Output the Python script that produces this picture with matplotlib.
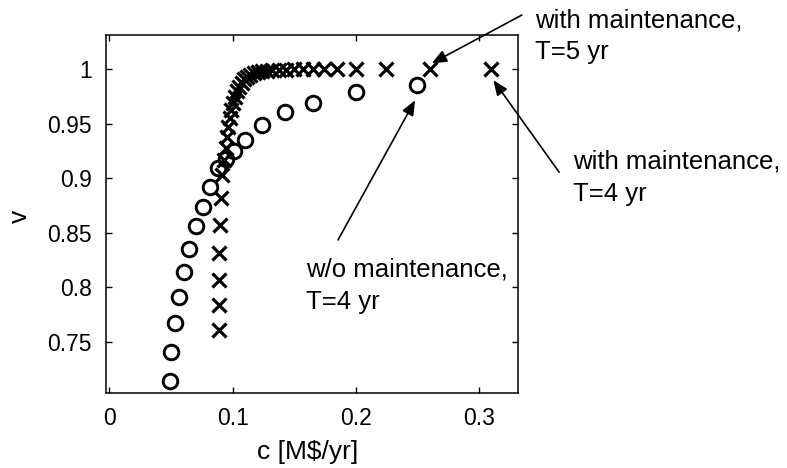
#!/usr/bin/env python
#
# Availability v vs. annual cost c, with and without maintenance.
# Saves the figure as out.png
#

import matplotlib as mpl
import matplotlib.pyplot as plt

mpl.rcParams['font.family'] = 'Liberation Sans'

# w/o maintenance (circles)
cost_wo = [0.0491, 0.0496, 0.0531, 0.0566, 0.0607, 0.0647, 0.0702, 0.0761, 0.0815, 0.0882,
           0.0945, 0.1010, 0.1099, 0.1234, 0.1423, 0.1648, 0.1999, 0.2491]
avail_wo = [0.7143, 0.7409, 0.7670, 0.7908, 0.8143, 0.8349, 0.8562, 0.8739, 0.8917, 0.9092,
            0.9177, 0.9255, 0.9356, 0.9489, 0.9604, 0.9694, 0.9789, 0.9856]

# with maintenance (crosses)
cost_w = [0.0888, 0.0888, 0.0892, 0.0892, 0.0896, 0.0904, 0.0916, 0.0929, 0.0941, 0.0953,
          0.0965, 0.0977, 0.0989, 0.1002, 0.1018, 0.1034, 0.1050, 0.1071, 0.1091, 0.1115,
          0.1140, 0.1172, 0.1204, 0.1237, 0.1277, 0.1318, 0.1375, 0.1431, 0.1496, 0.1569,
          0.1650, 0.1740, 0.1845, 0.1999, 0.2243, 0.2600, 0.3092]
avail_w = [0.7608, 0.7833, 0.8067, 0.8315, 0.8572, 0.8820, 0.9031, 0.9168, 0.9278, 0.9379,
           0.9471, 0.9553, 0.9627, 0.9691, 0.9746, 0.9801, 0.9842, 0.9879, 0.9911, 0.9934,
           0.9952, 0.9966, 0.9975, 0.9984, 0.9989, 0.9994, 0.9996, 0.9998, 0.9999, 1.0,
           1.0, 1.0, 1.0, 1.0, 1.0, 1.0, 1.0]

x_ticks = [0, 0.1, 0.2, 0.3]
y_ticks = [0.75, 0.8, 0.85, 0.9, 0.95, 1]

TICK_SIZE = 16.5
LABEL_SIZE = 19
NOTE_SIZE = 18.5


def main():
    fig = plt.figure(figsize=(7.87, 4.68), dpi=100)
    ax = fig.add_axes([0.1347, 0.1603, 0.5239, 0.7649])

    ax.plot(cost_wo, avail_wo, linestyle='none', marker='o', markersize=10.5,
            markerfacecolor='none', markeredgecolor='black', markeredgewidth=2.1)
    ax.plot(cost_w, avail_w, linestyle='none', marker='x', markersize=10.5,
            markeredgecolor='black', markeredgewidth=2.3)

    ax.set_xlim(-0.0028, 0.3315)
    ax.set_ylim(0.703, 1.0315)
    ax.set_xticks(x_ticks)
    ax.set_xticklabels(['0', '0.1', '0.2', '0.3'])
    ax.set_yticks(y_ticks)
    ax.set_yticklabels(['0.75', '0.8', '0.85', '0.9', '0.95', '1'])
    ax.tick_params(direction='in', length=4, width=1, top=True, right=True,
                   labelsize=TICK_SIZE)
    ax.tick_params(axis='x', pad=10)
    ax.tick_params(axis='y', pad=10)
    for spine in ax.spines.values():
        spine.set_linewidth(1.1)

    ax.set_xlabel('c [M$/yr]', fontsize=LABEL_SIZE, va='center')
    ax.xaxis.set_label_coords(0.49, -0.164)
    ax.set_ylabel('v', fontsize=LABEL_SIZE, va='center')
    ax.yaxis.set_label_coords(-0.21, 0.4925)

    # Annotations with arrows
    arrow = dict(arrowstyle='-|>,head_length=0.6,head_width=0.25', color='black',
                 lw=1.2, mutation_scale=15, shrinkA=0, shrinkB=0)
    ax.annotate('', xy=(0.2613, 1.0055), xytext=(0.3343, 1.0498),
                arrowprops=arrow, annotation_clip=False)
    ax.annotate('', xy=(0.3113, 0.990), xytext=(0.3646, 0.9056),
                arrowprops=arrow, annotation_clip=False)
    ax.annotate('', xy=(0.2478, 0.9716), xytext=(0.1853, 0.8434),
                arrowprops=arrow, annotation_clip=False)

    ax.text(0.3451, 1.056, 'with maintenance,\nT=5 yr', fontsize=NOTE_SIZE,
            va='top', ha='left', linespacing=1.42, clip_on=False)
    ax.text(0.3762, 0.9260, 'with maintenance,\nT=4 yr', fontsize=NOTE_SIZE,
            va='top', ha='left', linespacing=1.42, clip_on=False)
    ax.text(0.1594, 0.8270, 'w/o maintenance,\nT=4 yr', fontsize=NOTE_SIZE,
            va='top', ha='left', linespacing=1.42, clip_on=False)

    fig.savefig('out.png', dpi=100)


if __name__ == '__main__':
    main()
